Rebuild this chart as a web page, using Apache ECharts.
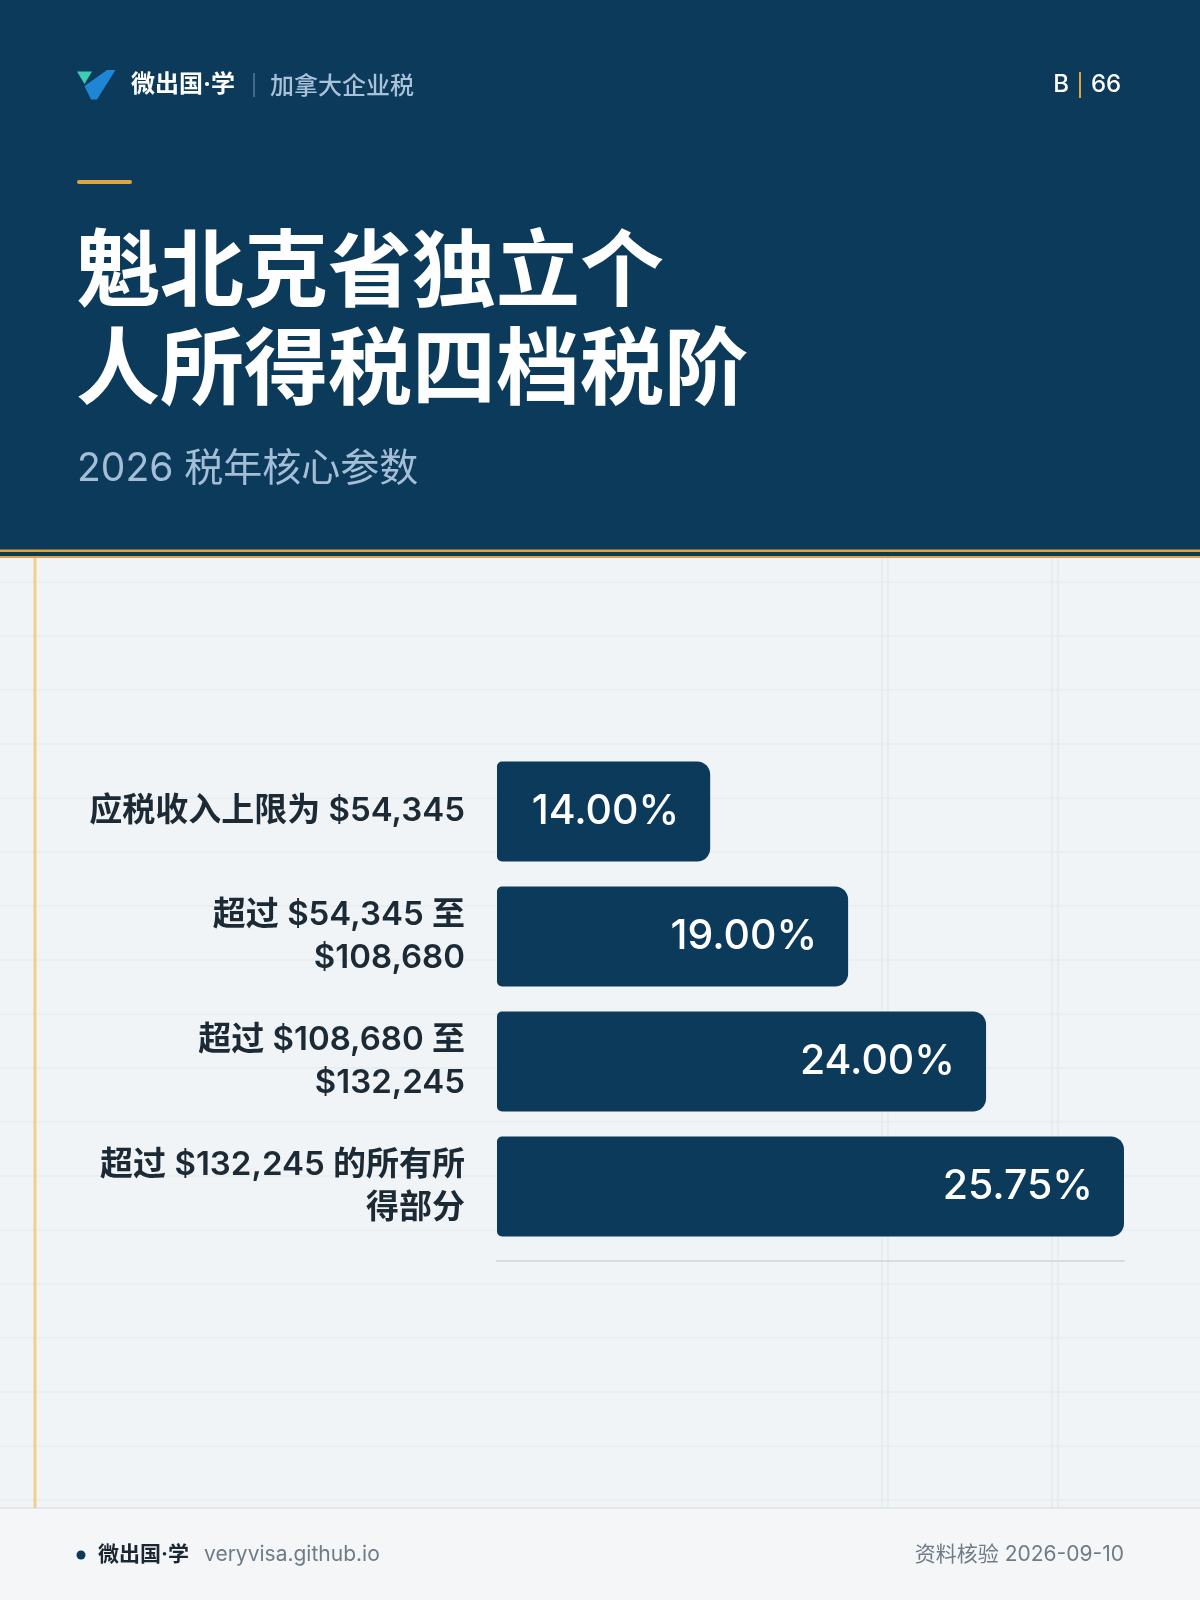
<!DOCTYPE html>
<html><head><meta charset="utf-8">
<script src="https://cdn.jsdelivr.net/npm/echarts@6/dist/echarts.min.js"></script>
<style>html,body{margin:0;padding:0;background:#f1f4f6}#c{width:1200px;height:1600px}</style>
</head><body><div id="c"></div>
<script>
// ---- data ----
const categories = [
  '应税收入上限为 $54,345',
  '超过 $54,345 至\n$108,680',
  '超过 $108,680 至\n$132,245',
  '超过 $132,245 的所有所\n得部分'
];
const rates = [14.00, 19.00, 24.00, 25.75];          // tax rate shown on each bar (%)
const barLengthPct = [34, 56, 78, 100];             // bar length (% of longest bar)
const titleLines = ['魁北克省独立个', '人所得税四档税阶'];
const subtitle = '2026 税年核心参数';
const brand = '微出国·学';
const section = '加拿大企业税';
const pageTag = ['B', '66'];
const footerSite = 'veryvisa.github.io';
const footerDate = '资料核验 2026-09-10';

const NAVY = '#0c3a5b', GOLD = '#e1a33b';
const LAT = 'Inter, "Noto Sans CJK SC", sans-serif';
const CJK = '"Noto Sans CJK SC", sans-serif';

const g = [];
// background decorative grid
for (let y = 582; y < 1508; y += 54) {
  g.push({type:'line', z:-10, shape:{x1:0,y1:y,x2:1200,y2:y}, style:{stroke:'#e6ecef', lineWidth:1.5}});
}
[882, 888, 1052, 1058].forEach(x => g.push({type:'line', z:-10, shape:{x1:x,y1:558,x2:x,y2:1508}, style:{stroke:'#e3ebed', lineWidth:1.5}}));
// footer
g.push({type:'rect', z:-9, shape:{x:0,y:1508,width:1200,height:92}, style:{fill:'#f4f6f8'}});
g.push({type:'line', z:-8, shape:{x1:0,y1:1508,x2:1200,y2:1508}, style:{stroke:'#dde3e8', lineWidth:1.5}});
// left gold rule
g.push({type:'line', z:-8, shape:{x1:35,y1:558,x2:35,y2:1508}, style:{stroke:'#f0cf8e', lineWidth:3}});
// header
g.push({type:'rect', z:-5, shape:{x:0,y:0,width:1200,height:557}, style:{fill:NAVY}});
g.push({type:'rect', z:-4, shape:{x:0,y:549.5,width:1200,height:2.5}, style:{fill:GOLD}});
g.push({type:'rect', z:-4, shape:{x:0,y:556,width:1200,height:2}, style:{fill:GOLD}});
// logo
g.push({type:'polygon', shape:{points:[[107,70],[115.5,70],[97,99.5],[91,99.5],[84.5,86]]}, style:{fill:'#1f86d6'}});
g.push({type:'polygon', shape:{points:[[77,71.5],[92,71.5],[84.5,84]]}, style:{fill:'#3ccdb5'}});
g.push({type:'text', style:{text:brand, x:131, y:85, font:'bold 24px '+LAT, fill:'#ffffff', textVerticalAlign:'middle'}});
g.push({type:'line', shape:{x1:254,y1:73,x2:254,y2:97}, style:{stroke:'#587a98', lineWidth:1.5}});
g.push({type:'text', style:{text:section, x:270, y:85, font:'500 24px '+CJK, fill:'#a9c2d9', textVerticalAlign:'middle'}});
g.push({type:'text', style:{text:pageTag[0], x:1069, y:85, font:'500 24px '+LAT, fill:'#ffffff', textAlign:'right', textVerticalAlign:'middle'}});
g.push({type:'rect', shape:{x:1079,y:72,width:2,height:26}, style:{fill:GOLD}});
g.push({type:'text', style:{text:pageTag[1], x:1091, y:85, font:'500 24px '+LAT, fill:'#ffffff', textVerticalAlign:'middle'}});
// title block
g.push({type:'rect', shape:{x:77,y:180,width:55,height:4,r:2}, style:{fill:GOLD}});
titleLines.forEach((t,i) => g.push({type:'text', style:{text:t, x:76, y:268 + i*98, font:'bold 84px '+CJK, fill:'#ffffff', textVerticalAlign:'middle'}}));
g.push({type:'text', style:{text:subtitle, x:77, y:469, font:'39px '+LAT, fill:'#a3bed6', textVerticalAlign:'middle'}});
// footer texts
g.push({type:'circle', shape:{cx:81,cy:1555,r:4.5}, style:{fill:NAVY}});
g.push({type:'text', style:{text:brand, x:98, y:1555, font:'bold 21px '+LAT, fill:'#1a2733', textVerticalAlign:'middle'}});
g.push({type:'text', style:{text:footerSite, x:204, y:1555, font:'21px '+LAT, fill:'#6f7c88', textVerticalAlign:'middle'}});
g.push({type:'text', style:{text:footerDate, x:1124, y:1555, font:'21px '+LAT, fill:'#6f7c88', textAlign:'right', textVerticalAlign:'middle'}});

const chart = echarts.init(document.getElementById('c'), null, {renderer:'canvas'});
chart.setOption({
  backgroundColor: '#f1f4f6',
  animation: false,
  graphic: g,
  grid: {left: 497, right: 76, top: 749, bottom: 351, containLabel: false},
  xAxis: {
    type: 'value', min: 0, max: 100, offset: 12,
    axisLine: {show: true, lineStyle: {color: '#d5dde2', width: 2}},
    axisTick: {show: false}, axisLabel: {show: false}, splitLine: {show: false}
  },
  yAxis: {
    type: 'category', inverse: true, data: categories,
    axisLine: {show: false}, axisTick: {show: false},
    axisLabel: {margin: 32, color: '#1c2a36', fontSize: 33, fontWeight: 600,
      fontFamily: LAT, lineHeight: 43, align: 'right'}
  },
  series: [{
    type: 'bar', data: barLengthPct, barCategoryGap: '20%',
    itemStyle: {color: NAVY, borderRadius: [5, 13, 13, 5]},
    label: {show: true, position: 'insideRight', distance: 31, color: '#ffffff',
      fontSize: 41, fontWeight: 500, fontFamily: LAT,
      formatter: p => rates[p.dataIndex].toFixed(2) + '%'}
  }]
});
</script></body></html>
